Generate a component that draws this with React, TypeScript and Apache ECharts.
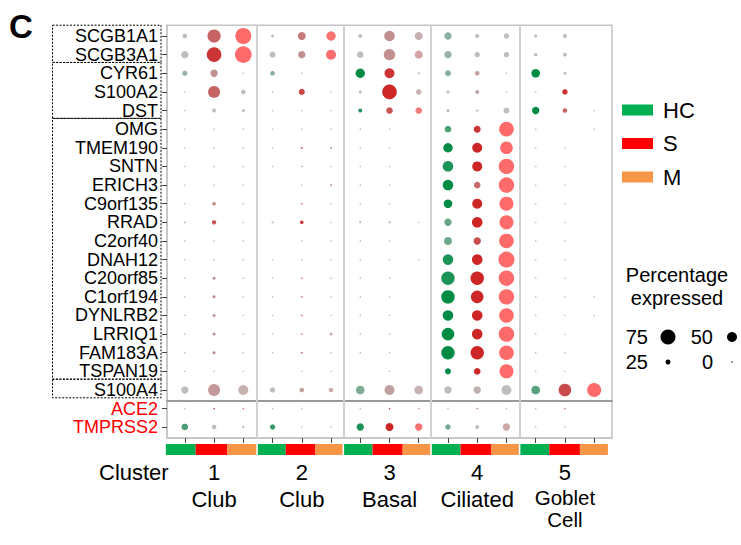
import React, { useEffect, useRef } from 'react';
import * as echarts from 'echarts';

const genesTop = ['SCGB1A1', 'SCGB3A1', 'CYR61', 'S100A2', 'DST', 'OMG', 'TMEM190', 'SNTN', 'ERICH3', 'C9orf135', 'RRAD', 'C2orf40', 'DNAH12', 'C20orf85', 'C1orf194', 'DYNLRB2', 'LRRIQ1', 'FAM183A', 'TSPAN19', 'S100A4'];
const genesBottom = ['ACE2', 'TMPRSS2'];
const conditions = ['HC', 'S', 'M'];
const clusterIds = ['1', '2', '3', '4', '5'];
const clusterNames = ['Club', 'Club', 'Basal', 'Ciliated', 'Goblet Cell'];
const geneGroups = [[0, 1], [2, 4], [5, 18], [19, 19]];
const sizeLegend = [75, 50, 25, 0];

// Percentage expressed; columns: cluster 1..5, each HC, S, M
const pctTop = [
  [23, 66, 80, 15, 40, 47, 20, 53, 40, 37, 20, 27, 16, 20, 0],
  [37, 73, 83, 30, 37, 50, 33, 57, 40, 37, 27, 27, 17, 20, 0],
  [27, 37, 3, 23, 6, 0, 47, 50, 10, 30, 23, 6, 43, 15, 0],
  [6, 60, 23, 6, 30, 6, 15, 73, 27, 15, 20, 6, 3, 27, 0],
  [3, 20, 16, 3, 3, 3, 20, 33, 33, 16, 12, 30, 37, 23, 6],
  [1, 3, 4, 1, 2, 2, 1, 1, 0, 33, 35, 73, 1, 0, 3],
  [1, 3, 4, 1, 10, 12, 1, 1, 0, 47, 50, 63, 1, 2, 0],
  [1, 4, 5, 1, 4, 4, 1, 1, 0, 53, 50, 77, 1, 2, 0],
  [1, 3, 4, 0, 1, 12, 1, 1, 0, 53, 33, 77, 1, 2, 0],
  [1, 18, 3, 0, 8, 1, 1, 2, 0, 43, 50, 70, 1, 2, 0],
  [10, 22, 4, 10, 18, 4, 12, 12, 2, 37, 53, 70, 1, 3, 0],
  [1, 4, 4, 0, 2, 1, 1, 1, 0, 40, 37, 73, 1, 2, 0],
  [1, 5, 4, 1, 2, 5, 1, 1, 1, 53, 53, 80, 1, 2, 0],
  [1, 15, 5, 1, 8, 8, 1, 1, 0, 67, 67, 77, 1, 2, 0],
  [1, 15, 4, 1, 8, 4, 1, 1, 0, 67, 63, 77, 1, 3, 3],
  [1, 15, 5, 1, 7, 2, 1, 1, 0, 53, 53, 73, 1, 3, 3],
  [1, 15, 5, 1, 5, 15, 1, 1, 0, 63, 53, 77, 1, 3, 0],
  [1, 15, 3, 1, 8, 3, 1, 1, 0, 67, 67, 73, 1, 3, 0],
  [1, 6, 6, 0, 3, 3, 0, 2, 0, 30, 33, 70, 1, 2, 0],
  [37, 60, 50, 27, 23, 23, 43, 50, 43, 37, 37, 50, 43, 63, 70],
];
// Scaled average expression (0 = grey, 1 = full colour)
const exprTop = [
  [0, 0.6, 1, 0, 0.45, 0.9, 0, 0.3, 0.15, 0.25, 0, 0, 0, 0, 0],
  [0, 0.9, 1, 0, 0.3, 0.95, 0, 0.3, 0.35, 0.2, 0, 0, 0, 0, 0],
  [0.2, 0.3, 0, 0.3, 0, 0, 1, 0.9, 0.1, 0.3, 0.2, 0, 1, 0, 0],
  [0, 0.6, 0, 0, 0.8, 0, 0, 1, 0.15, 0, 0.15, 0, 0, 0.95, 0],
  [0, 0, 0, 0, 0, 0, 0.8, 0.7, 0.8, 0, 0, 0, 1, 0.6, 0],
  [0, 0, 0, 0, 0, 0, 0, 0, 0, 0.6, 0.9, 1, 0, 0, 0],
  [0, 0, 0, 0, 0.5, 0.1, 0, 0, 0, 1, 1, 1, 0, 0, 0],
  [0, 0, 0, 0, 0.3, 0, 0, 0, 0, 0.85, 1, 1, 0, 0, 0],
  [0, 0, 0, 0, 0, 0.2, 0, 0, 0, 1, 0.55, 1, 0, 0, 0],
  [0, 0.35, 0, 0, 0.5, 0, 0, 0, 0, 1, 1, 1, 0, 0, 0],
  [0, 0.7, 0, 0, 0.9, 0, 0, 0, 0, 0.45, 1, 1, 0, 0, 0],
  [0, 0, 0, 0, 0, 0, 0, 0, 0, 0.45, 0.75, 1, 0, 0, 0],
  [0, 0, 0, 0, 0, 0, 0, 0, 0, 0.85, 1, 1, 0, 0, 0],
  [0, 0.3, 0, 0, 0.4, 0, 0, 0, 0, 0.85, 1, 1, 0, 0, 0],
  [0, 0.35, 0, 0, 0.6, 0, 0, 0, 0, 1, 1, 1, 0, 0, 0],
  [0, 0.3, 0, 0, 0.6, 0, 0, 0, 0, 1, 1, 1, 0, 0, 0],
  [0, 0.3, 0, 0, 0.5, 0.2, 0, 0, 0, 1, 1, 1, 0, 0, 0],
  [0, 0.35, 0, 0, 0.6, 0, 0, 0, 0, 1, 1, 1, 0, 0, 0],
  [0, 0, 0, 0, 0, 0, 0, 0, 0, 1, 1, 1, 0, 0, 0],
  [0, 0.25, 0.15, 0, 0.2, 0.2, 0.35, 0.2, 0.15, 0, 0.1, 0, 0.55, 0.75, 1],
];
const pctBottom = [
  [1, 5, 5, 1, 1, 0, 1, 6, 3, 1, 3, 2, 1, 2, 0],
  [33, 23, 12, 27, 3, 1, 37, 40, 37, 27, 20, 37, 3, 3, 0],
];
const exprBottom = [
  [0, 0.9, 0.8, 0, 0, 0, 0, 0.8, 0.5, 0, 0.5, 0, 0, 0.5, 0],
  [0.6, 0, 0, 0.7, 0, 0, 0.85, 1, 0.9, 0.4, 0, 0.25, 0, 0, 0],
];

const condBarColors = ['#00B050', '#FF0000', '#F79646'];
const condDotColors = ['#008B45', '#CD2626', '#FF6A6A'];
const lowColor = '#BEBEBE';
const clusterEdges = [-0.65, 2.47, 5.42, 8.42, 11.45, 14.47];
const FONT = '"Liberation Sans", Arial, sans-serif';
const X_MIN = -0.61;
const X_MAX = 14.61;
const FRAME = '#c4c4c4';

function hex(c: string) {
  return [1, 3, 5].map((i) => parseInt(c.slice(i, i + 2), 16));
}
function mix(a: string, b: string, t: number) {
  const A = hex(a);
  const B = hex(b);
  const r = A.map((v, i) => Math.round(v + (B[i] - v) * t));
  return `rgb(${r[0]},${r[1]},${r[2]})`;
}
const sizeOf = (p: number) => (p <= 0 ? 0 : Math.max(1.5, p * 0.2));

function buildSeries() {
  const series: any[] = [];
  const blocks = [
    { pct: pctTop, expr: exprTop },
    { pct: pctBottom, expr: exprBottom },
  ];
  blocks.forEach((blk, g) => {
    conditions.forEach((cond, k) => {
      const data: any[] = [];
      blk.pct.forEach((row, r) => {
        clusterIds.forEach((_, c) => {
          const col = c * 3 + k;
          const p = row[col];
          if (p <= 0) return;
          const e = blk.expr[r][col];
          data.push({ value: [col, r, p, e], itemStyle: { color: mix(lowColor, condDotColors[k], e) } });
        });
      });
      const s: any = {
        type: 'scatter',
        name: cond,
        xAxisIndex: g,
        yAxisIndex: g,
        symbol: 'circle',
        symbolSize: (v: number[]) => sizeOf(v[2]),
        itemStyle: { color: condBarColors[k], opacity: 1 },
        silent: true,
        z: 3,
        data,
      };
      if (k === 0) {
        s.markLine = {
          silent: true,
          symbol: ['none', 'none'],
          label: { show: false },
          lineStyle: { color: '#d2d2d2', width: 2, type: 'solid' },
          data: clusterEdges.slice(1, 5).map((x) => ({ xAxis: x })),
          z: 1,
        };
      }
      series.push(s);
    });
  });
  // condition colour bar under the columns
  series.push({
    type: 'custom',
    xAxisIndex: 2,
    yAxisIndex: 2,
    silent: true,
    data: Array.from({ length: 15 }, (_, i) => [i, 0]),
    renderItem: (params: any, api: any) => {
      const i = api.value(0);
      const c = Math.floor(i / 3);
      const k = i % 3;
      const xL = api.coord([clusterEdges[c], 0])[0] + (c > 0 ? 0.8 : 0);
      const xR = api.coord([clusterEdges[c + 1], 0])[0] - (c < 4 ? 0.8 : 0);
      const w = xR - xL;
      const fr = [0, 0.33, 0.68, 1];
      const cs = params.coordSys;
      return {
        type: 'rect',
        shape: { x: xL + w * fr[k], y: cs.y, width: w * (fr[k + 1] - fr[k]), height: cs.height },
        style: { fill: condBarColors[k] },
      };
    },
  });
  // dashed boxes around gene groups
  series.push({
    type: 'custom',
    xAxisIndex: 0,
    yAxisIndex: 0,
    silent: true,
    clip: false,
    encode: { x: 0, y: 1 },
    data: geneGroups.map((g) => [0, g[0], g[1]]),
    renderItem: (params: any, api: any) => {
      const s = api.value(1);
      const e = api.value(2);
      const y1 = api.coord([0, s - 0.58])[1];
      const y2 = api.coord([0, e + 0.42])[1];
      return {
        type: 'rect',
        shape: { x: 52.5, y: y1, width: 108.5, height: y2 - y1 },
        style: { fill: 'none', stroke: '#000', lineWidth: 1, lineDash: [2, 1.5] },
      };
    },
  });
  return series;
}

function txt(text: string, x: number, y: number, fontSize: number, align = 'left', extra: any = {}) {
  return {
    type: 'text',
    x,
    y,
    silent: true,
    style: {
      text,
      fill: '#000',
      fontSize,
      fontFamily: FONT,
      align,
      textAlign: align,
      verticalAlign: 'middle',
      textVerticalAlign: 'middle',
      ...extra,
    },
  };
}

export default function App() {
  const ref = useRef<HTMLDivElement>(null);
  useEffect(() => {
    document.body.style.margin = '0';
    if (!ref.current) return;
    const chart = echarts.init(ref.current, null, { renderer: 'svg' });
    const topTicks = genesTop.map((_, i) => i);
    const botTicks = genesBottom.map((_, i) => i);
    const cols = Array.from({ length: 15 }, (_, i) => i);
    const labelCols = clusterIds.map((_, c) => c * 3 + 1);

    const option: any = {
      animation: false,
      backgroundColor: '#fff',
      textStyle: { fontFamily: FONT },
      grid: [
        { left: 167, top: 25.3, width: 445, height: 375.4, show: true, borderColor: FRAME, borderWidth: 1.5, backgroundColor: 'transparent' },
        { left: 167, top: 400.7, width: 445, height: 37.3, show: true, borderColor: FRAME, borderWidth: 1.5, backgroundColor: 'transparent' },
        { left: 167, top: 444, width: 445, height: 11 },
      ],
      xAxis: [
        {
          gridIndex: 0, type: 'value', min: X_MIN, max: X_MAX, position: 'bottom',
          axisLine: { show: true, onZero: false, lineStyle: { color: '#8a8a8a', width: 1.5 } },
          axisTick: { show: false }, axisLabel: { show: false }, splitLine: { show: false },
        },
        {
          gridIndex: 1, type: 'value', min: X_MIN, max: X_MAX, position: 'bottom',
          axisLine: { show: true, onZero: false, lineStyle: { color: FRAME, width: 1.5 } },
          axisTick: { show: true, length: 5, customValues: cols, lineStyle: { color: '#444', width: 1 } },
          axisLabel: { show: false }, splitLine: { show: false },
        },
        {
          gridIndex: 2, type: 'value', min: X_MIN, max: X_MAX, position: 'bottom',
          axisLine: { show: false, onZero: false }, axisTick: { show: false }, splitLine: { show: false },
          axisLabel: {
            show: true,
            customValues: labelCols,
            margin: 3,
            formatter: (v: number) => {
              const c = Math.round((v - 1) / 3);
              const name = clusterNames[c];
              if (name.indexOf(' ') >= 0) {
                return `{n|${clusterIds[c]}}\n` + name.split(' ').map((w) => `{g|${w}}`).join('\n');
              }
              return `{n|${clusterIds[c]}}\n{s|${name}}`;
            },
            rich: {
              n: { fontSize: 22, lineHeight: 28, color: '#000', fontFamily: FONT },
              s: { fontSize: 22, lineHeight: 26, color: '#000', fontFamily: FONT },
              g: { fontSize: 20.5, lineHeight: 22, color: '#000', fontFamily: FONT },
            },
          },
        },
      ],
      yAxis: [
        {
          gridIndex: 0, type: 'value', inverse: true, min: -0.575, max: 19.575, position: 'left',
          axisLine: { show: true, onZero: false, lineStyle: { color: FRAME, width: 1.5 } }, splitLine: { show: false },
          axisTick: { show: true, length: 5, customValues: topTicks, lineStyle: { color: '#444' } },
          axisLabel: {
            customValues: topTicks, margin: 9, fontSize: 18, color: '#000', fontFamily: FONT,
            formatter: (v: number) => genesTop[Math.round(v)] ?? '',
          },
        },
        {
          gridIndex: 1, type: 'value', inverse: true, min: -0.43, max: 1.6, position: 'left',
          axisLine: { show: true, onZero: false, lineStyle: { color: FRAME, width: 1.5 } }, splitLine: { show: false },
          axisTick: { show: true, length: 5, customValues: botTicks, lineStyle: { color: '#444' } },
          axisLabel: {
            customValues: botTicks, margin: 9, fontSize: 18, color: '#FF0000', fontFamily: FONT,
            formatter: (v: number) => genesBottom[Math.round(v)] ?? '',
          },
        },
        { gridIndex: 2, type: 'value', min: 0, max: 1, show: false },
      ],
      legend: {
        data: conditions.map((c, k) => ({ name: c, itemStyle: { color: condBarColors[k] } })),
        orient: 'vertical',
        left: 622,
        top: 99,
        padding: 0,
        itemWidth: 31,
        itemHeight: 11,
        itemGap: 11.5,
        icon: 'rect',
        selectedMode: false,
        textStyle: { fontSize: 22, color: '#000', fontFamily: FONT, lineHeight: 22, padding: [0, 0, 0, 5] },
      },
      graphic: [
        txt('C', 9, 26, 33, 'left', { fontWeight: 'bold' }),
        txt('Cluster', 99, 472, 22),
        txt('Percentage', 677, 275, 20, 'center'),
        txt('expressed', 677, 298, 20, 'center'),
        txt(String(sizeLegend[0]), 648, 337, 20, 'right'),
        txt(String(sizeLegend[1]), 713, 337, 20, 'right'),
        txt(String(sizeLegend[2]), 648, 362, 20, 'right'),
        txt(String(sizeLegend[3]), 713, 362, 20, 'right'),
        { type: 'circle', silent: true, shape: { cx: 668, cy: 337, r: sizeOf(sizeLegend[0]) / 2 }, style: { fill: '#000' } },
        { type: 'circle', silent: true, shape: { cx: 732, cy: 337, r: sizeOf(sizeLegend[1]) / 2 }, style: { fill: '#000' } },
        { type: 'circle', silent: true, shape: { cx: 668, cy: 362, r: sizeOf(sizeLegend[2]) / 2 }, style: { fill: '#000' } },
        { type: 'circle', silent: true, shape: { cx: 732, cy: 362, r: 0.7 }, style: { fill: '#000' } },
      ],
      series: buildSeries(),
    };
    chart.setOption(option);
    return () => chart.dispose();
  }, []);
  return <div ref={ref} style={{ width: 741, height: 545 }} />;
}
